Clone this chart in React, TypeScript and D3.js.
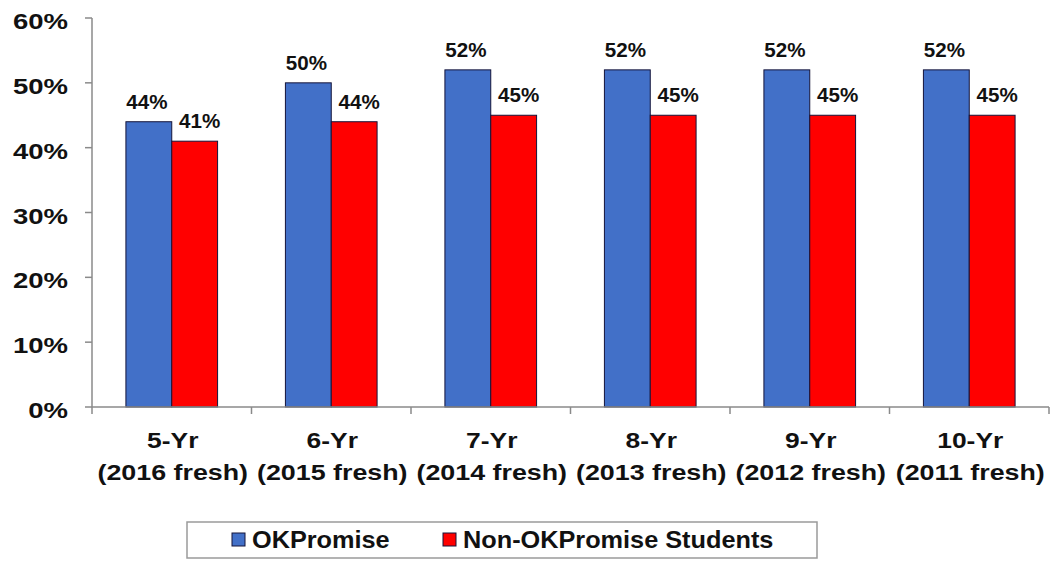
import React, { useEffect, useRef } from 'react';
import * as d3 from 'd3';

const yearLabels = ['5-Yr', '6-Yr', '7-Yr', '8-Yr', '9-Yr', '10-Yr'];
const cohortLabels = ['(2016 fresh)', '(2015 fresh)', '(2014 fresh)', '(2013 fresh)', '(2012 fresh)', '(2011 fresh)'];
const seriesNames = ['OKPromise', 'Non-OKPromise Students'];
const okPromise = [44, 50, 52, 52, 52, 52];
const nonOkPromise = [41, 44, 45, 45, 45, 45];
const yTicks = [0, 10, 20, 30, 40, 50, 60];

const COLORS = ['#4270C8', '#FF0000'];
const FONT = '"Liberation Sans", Arial, sans-serif';

const App: React.FC = () => {
  const svgRef = useRef<SVGSVGElement>(null);

  useEffect(() => {
    if (!svgRef.current) return;
    const W = 1050;
    const H = 561;
    const plot = { left: 92, right: 1049, top: 18, bottom: 407 };

    d3.select(svgRef.current).selectAll('*').remove();
    const svg = d3.select(svgRef.current).attr('width', W).attr('height', H);

    svg.append('rect').attr('width', W).attr('height', H).attr('fill', '#fff');

    const x0 = d3.scaleBand<number>()
      .domain(d3.range(yearLabels.length))
      .range([plot.left, plot.right])
      .padding(0);

    const x1 = d3.scaleBand<number>()
      .domain([0, 1])
      .range([0, x0.bandwidth()])
      .paddingInner(0)
      .paddingOuter(0.74);

    const y = d3.scaleLinear().domain([0, 60]).range([plot.bottom, plot.top]);

    // text helper with horizontal stretch, like the source image
    const stretchText = (
      g: d3.Selection<SVGGElement, unknown, null, undefined>,
      tx: number, ty: number, txt: string, size: number, sx: number, anchor: string
    ) => {
      g.append('text')
        .attr('transform', `translate(${tx},${ty}) scale(${sx},1)`)
        .attr('text-anchor', anchor)
        .style('font-family', FONT)
        .style('font-weight', 'bold')
        .style('font-size', `${size}px`)
        .attr('fill', '#111')
        .text(txt);
    };

    const labels = svg.append('g');

    // Bars
    const series = [okPromise, nonOkPromise];
    series.forEach((vals, si) => {
      svg.append('g')
        .selectAll('rect')
        .data(vals)
        .enter()
        .append('rect')
        .attr('x', (_, i) => (x0(i) as number) + (x1(si) as number))
        .attr('y', d => y(d))
        .attr('width', x1.bandwidth())
        .attr('height', d => y(0) - y(d))
        .attr('fill', COLORS[si])
        .attr('stroke', '#14143a')
        .attr('stroke-width', 1);

      vals.forEach((v, i) => {
        const cx = (x0(i) as number) + (x1(si) as number) + x1.bandwidth() / 2 + (si === 1 ? 5 : -2);
        stretchText(labels, cx, y(v) - 13, `${v}%`, 21, 0.98, 'middle');
      });
    });

    // Axes
    const axisColor = '#8a8a8a';
    svg.append('line')
      .attr('x1', plot.left).attr('x2', plot.left)
      .attr('y1', y(60)).attr('y2', y(0))
      .attr('stroke', axisColor).attr('stroke-width', 1.5);
    svg.append('line')
      .attr('x1', plot.left).attr('x2', plot.right)
      .attr('y1', y(0)).attr('y2', y(0))
      .attr('stroke', axisColor).attr('stroke-width', 1.5);

    yTicks.forEach(t => {
      svg.append('line')
        .attr('x1', plot.left - 7).attr('x2', plot.left)
        .attr('y1', y(t)).attr('y2', y(t))
        .attr('stroke', axisColor).attr('stroke-width', 1.5);
      stretchText(labels, 68, y(t) + 11, `${t}%`, 22, 1.25, 'end');
    });

    d3.range(yearLabels.length + 1).forEach(i => {
      const xv = i < yearLabels.length ? (x0(i) as number) : plot.right;
      svg.append('line')
        .attr('x1', xv).attr('x2', xv)
        .attr('y1', y(0)).attr('y2', y(0) + 7)
        .attr('stroke', axisColor).attr('stroke-width', 1.5);
    });

    yearLabels.forEach((lab, i) => {
      const cx = (x0(i) as number) + x0.bandwidth() / 2;
      stretchText(labels, cx + 1, 448, lab, 22, 1.2, 'middle');
      stretchText(labels, cx + 1, 480, cohortLabels[i], 22, 1.22, 'middle');
    });

    // Legend
    const legend = svg.append('g');
    legend.append('rect')
      .attr('x', 187).attr('y', 522)
      .attr('width', 630).attr('height', 36)
      .attr('fill', '#fff')
      .attr('stroke', '#9a9a9a').attr('stroke-width', 1.5);

    const legendX = [232, 443];
    seriesNames.forEach((name, si) => {
      legend.append('rect')
        .attr('x', legendX[si]).attr('y', 533)
        .attr('width', 13).attr('height', 13)
        .attr('fill', COLORS[si])
        .attr('stroke', '#14143a').attr('stroke-width', 1);
      stretchText(legend, legendX[si] + 20, 548, name, 23, 1.1, 'start');
    });

    svg.node()!.appendChild(labels.node()!);
  }, []);

  return <svg ref={svgRef} style={{ position: 'absolute', left: 0, top: 0 }}></svg>;
};

export default App;
